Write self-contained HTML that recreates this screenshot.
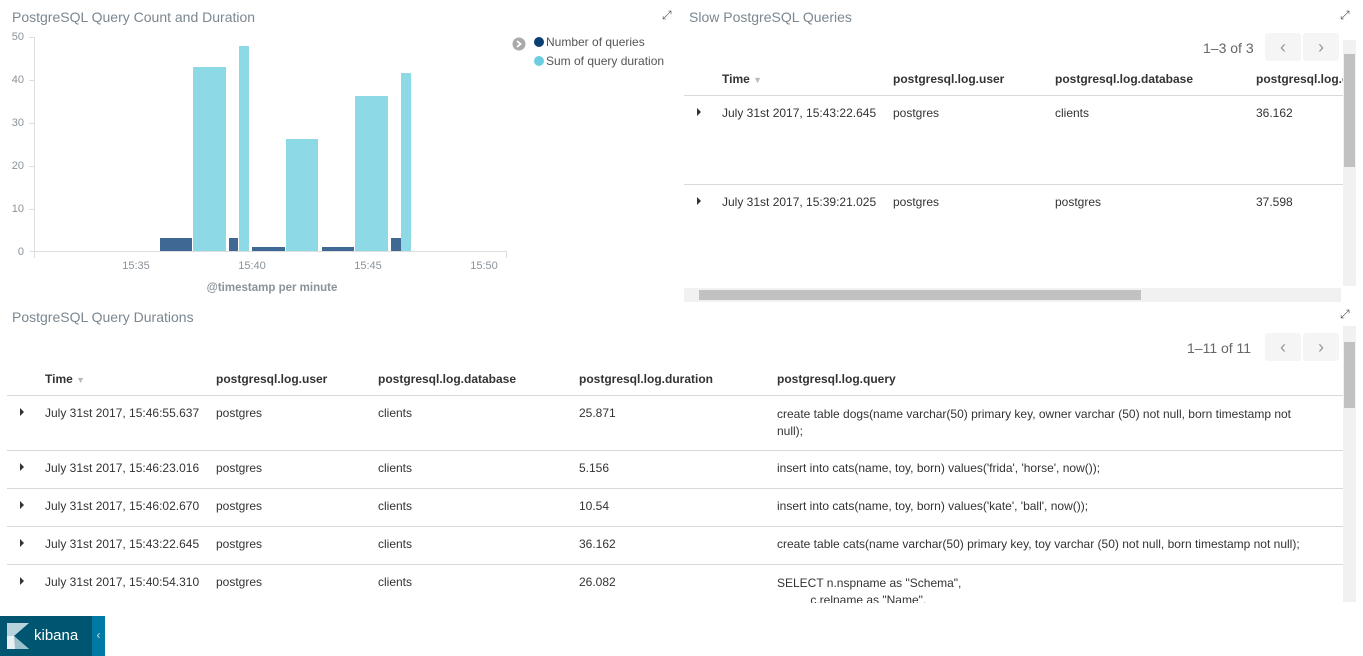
<!DOCTYPE html>
<html><head><meta charset="utf-8"><style>
*{margin:0;padding:0;box-sizing:border-box}
body{width:1363px;height:656px;background:#fff;font-family:"Liberation Sans",sans-serif;position:relative;overflow:hidden;color:#333}
.a{position:absolute;white-space:nowrap}
.t{font-size:14px;color:#7b8790}
.c{font-size:12px;color:#333}
.h{font-size:12px;font-weight:bold;color:#333}
.ln{position:absolute;height:1px;background:#d9d9d9}
.tri{position:absolute;width:0;height:0;border-top:4px solid transparent;border-bottom:4px solid transparent;border-left:4px solid #333}
.btn{position:absolute;width:36px;height:28px;background:#f5f5f5;border-radius:3px;color:#999;font-size:18px;text-align:center;line-height:28px}
</style></head><body>
<div class="a t" style="left:12px;top:9px">PostgreSQL Query Count and Duration</div>
<div class="a" style="left:662px;top:8px;font-size:12px;color:#555">⤢</div>
<svg class="a" style="left:0;top:25px" width="680" height="275" viewBox="0 25 680 275">
<g font-family="Liberation Sans" font-size="11" fill="#8a939a">
<text x="24" y="40" text-anchor="end">50</text>
<text x="24" y="83" text-anchor="end">40</text>
<text x="24" y="126" text-anchor="end">30</text>
<text x="24" y="169" text-anchor="end">20</text>
<text x="24" y="212" text-anchor="end">10</text>
<text x="24" y="255" text-anchor="end">0</text>
<text x="136" y="269" text-anchor="middle">15:35</text>
<text x="252" y="269" text-anchor="middle">15:40</text>
<text x="368" y="269" text-anchor="middle">15:45</text>
<text x="484" y="269" text-anchor="middle">15:50</text>
</g>
<line x1="34.5" y1="37" x2="34.5" y2="251" stroke="#ddd"/>
<line x1="30" y1="251.5" x2="507" y2="251.5" stroke="#ddd"/>
<line x1="34.5" y1="251" x2="34.5" y2="258" stroke="#ddd"/>
<line x1="506.5" y1="251" x2="506.5" y2="258" stroke="#ddd"/>
<g stroke="#ddd"><line x1="29" y1="37.5" x2="34" y2="37.5"/><line x1="29" y1="80.5" x2="34" y2="80.5"/><line x1="29" y1="123.5" x2="34" y2="123.5"/><line x1="29" y1="166.5" x2="34" y2="166.5"/><line x1="29" y1="209.5" x2="34" y2="209.5"/></g>
<g fill="#3f6894">
<rect x="160" y="238" width="32" height="13"/><rect x="229" y="238" width="9" height="13"/>
<rect x="252" y="247" width="33" height="4"/><rect x="322" y="247" width="32" height="4"/>
<rect x="391" y="238" width="10" height="13"/></g>
<g fill="#8ddae6">
<rect x="193" y="67" width="33" height="184"/><rect x="239" y="46" width="10" height="205"/>
<rect x="286" y="139" width="32" height="112"/><rect x="355" y="96" width="33" height="155"/>
<rect x="401" y="73" width="10" height="178"/></g>
<text x="272" y="291" text-anchor="middle" font-family="Liberation Sans" font-size="11.5" font-weight="bold" fill="#8a939a">@timestamp per minute</text>
<circle cx="519" cy="44" r="6.5" fill="#aaa"/><path d="M517,41 L520.5,44 L517,47" stroke="#fff" stroke-width="1.8" fill="none"/>
<circle cx="539" cy="42" r="5" fill="#0a3f72"/>
<circle cx="539" cy="61" r="5" fill="#6dcde0"/>
<text x="546" y="46" font-family="Liberation Sans" font-size="12" fill="#555">Number of queries</text>
<text x="546" y="65" font-family="Liberation Sans" font-size="12" fill="#555">Sum of query duration</text>
</svg>

<div class="a t" style="left:689px;top:9px">Slow PostgreSQL Queries</div>
<div class="a" style="left:1340px;top:8px;font-size:12px;color:#555">⤢</div>
<div class="a" style="left:1203px;top:40px;font-size:14px;color:#666">1–3 of 3</div>
<div class="btn" style="left:1265px;top:33px">‹</div>
<div class="btn" style="left:1303px;top:33px">›</div>
<div class="a h" style="left:722px;top:72px">Time <span style="color:#bbb;font-size:9px">▼</span></div>
<div class="a h" style="left:893px;top:72px">postgresql.log.user</div>
<div class="a h" style="left:1055px;top:72px">postgresql.log.database</div>
<div class="a h" style="left:1256px;top:72px;width:87px;overflow:hidden">postgresql.log.duration</div>
<div class="ln" style="left:684px;top:95px;width:659px"></div>
<div class="tri" style="left:697px;top:108px"></div>
<div class="a c" style="left:722px;top:106px">July 31st 2017, 15:43:22.645</div>
<div class="a c" style="left:893px;top:106px">postgres</div>
<div class="a c" style="left:1055px;top:106px">clients</div>
<div class="a c" style="left:1256px;top:106px">36.162</div>
<div class="ln" style="left:684px;top:184px;width:659px"></div>
<div class="tri" style="left:697px;top:197px"></div>
<div class="a c" style="left:722px;top:195px">July 31st 2017, 15:39:21.025</div>
<div class="a c" style="left:893px;top:195px">postgres</div>
<div class="a c" style="left:1055px;top:195px">postgres</div>
<div class="a c" style="left:1256px;top:195px">37.598</div>
<div class="a" style="left:1343px;top:40px;width:13px;height:246px;background:#f1f1f1"></div>
<div class="a" style="left:1344px;top:54px;width:11px;height:113px;background:#c1c1c1"></div>
<div class="a" style="left:684px;top:288px;width:657px;height:14px;background:#f1f1f1"></div>
<div class="a" style="left:699px;top:290px;width:442px;height:10px;background:#c1c1c1"></div>

<div class="a t" style="left:12px;top:309px">PostgreSQL Query Durations</div>
<div class="a" style="left:1340px;top:307px;font-size:12px;color:#555">⤢</div>
<div class="a" style="left:1187px;top:340px;font-size:14px;color:#666">1–11 of 11</div>
<div class="btn" style="left:1265px;top:333px">‹</div>
<div class="btn" style="left:1303px;top:333px">›</div>
<div class="a h" style="left:45px;top:372px">Time <span style="color:#bbb;font-size:9px">▼</span></div>
<div class="a h" style="left:216px;top:372px">postgresql.log.user</div>
<div class="a h" style="left:378px;top:372px">postgresql.log.database</div>
<div class="a h" style="left:579px;top:372px">postgresql.log.duration</div>
<div class="a h" style="left:777px;top:372px">postgresql.log.query</div>
<div class="ln" style="left:7px;top:395px;width:1336px"></div>

<div class="tri" style="left:20px;top:408px"></div>
<div class="a c" style="left:45px;top:406px">July 31st 2017, 15:46:55.637</div>
<div class="a c" style="left:216px;top:406px">postgres</div>
<div class="a c" style="left:378px;top:406px">clients</div>
<div class="a c" style="left:579px;top:406px">25.871</div>
<div class="a c" style="left:777px;top:406px;line-height:17px">create table dogs(name varchar(50) primary key, owner varchar (50) not null, born timestamp not<br>null);</div>
<div class="ln" style="left:7px;top:450px;width:1336px"></div>

<div class="tri" style="left:20px;top:463px"></div>
<div class="a c" style="left:45px;top:461px">July 31st 2017, 15:46:23.016</div>
<div class="a c" style="left:216px;top:461px">postgres</div>
<div class="a c" style="left:378px;top:461px">clients</div>
<div class="a c" style="left:579px;top:461px">5.156</div>
<div class="a c" style="left:777px;top:461px">insert into cats(name, toy, born) values('frida', 'horse', now());</div>
<div class="ln" style="left:7px;top:488px;width:1336px"></div>

<div class="tri" style="left:20px;top:501px"></div>
<div class="a c" style="left:45px;top:499px">July 31st 2017, 15:46:02.670</div>
<div class="a c" style="left:216px;top:499px">postgres</div>
<div class="a c" style="left:378px;top:499px">clients</div>
<div class="a c" style="left:579px;top:499px">10.54</div>
<div class="a c" style="left:777px;top:499px">insert into cats(name, toy, born) values('kate', 'ball', now());</div>
<div class="ln" style="left:7px;top:526px;width:1336px"></div>

<div class="tri" style="left:20px;top:539px"></div>
<div class="a c" style="left:45px;top:537px">July 31st 2017, 15:43:22.645</div>
<div class="a c" style="left:216px;top:537px">postgres</div>
<div class="a c" style="left:378px;top:537px">clients</div>
<div class="a c" style="left:579px;top:537px">36.162</div>
<div class="a c" style="left:777px;top:537px">create table cats(name varchar(50) primary key, toy varchar (50) not null, born timestamp not null);</div>
<div class="ln" style="left:7px;top:564px;width:1336px"></div>

<div class="tri" style="left:20px;top:577px"></div>
<div class="a c" style="left:45px;top:575px">July 31st 2017, 15:40:54.310</div>
<div class="a c" style="left:216px;top:575px">postgres</div>
<div class="a c" style="left:378px;top:575px">clients</div>
<div class="a c" style="left:579px;top:575px">26.082</div>
<div class="a c" style="left:777px;top:575px;line-height:17px">SELECT n.nspname as "Schema",<br>&nbsp;&nbsp;&nbsp;&nbsp;&nbsp;&nbsp;&nbsp;&nbsp;&nbsp;&nbsp;c.relname as "Name".</div>
<div class="a" style="left:0;top:603px;width:1363px;height:53px;background:#fff"></div>
<div class="a" style="left:1343px;top:326px;width:13px;height:276px;background:#f1f1f1"></div>
<div class="a" style="left:1344px;top:342px;width:11px;height:66px;background:#c1c1c1"></div>

<div class="a" style="left:0;top:616px;width:92px;height:40px;background:#005571"></div>
<div class="a" style="left:92px;top:616px;width:13px;height:40px;background:#0079a5;color:#cde;font-size:12px;text-align:center;line-height:38px">‹</div>
<svg class="a" style="left:7px;top:623px" width="22" height="26"><polygon points="0,0 22,0 7,13 0,13" fill="#b9d3dc"/><polygon points="0,13 7,13 22,26 0,26" fill="#e8f0f3"/><polygon points="7,13 22,26 8,26" fill="#9cc0cc"/></svg>
<div class="a" style="left:34px;top:627px;font-size:15px;color:#fff">kibana</div>
</body></html>
